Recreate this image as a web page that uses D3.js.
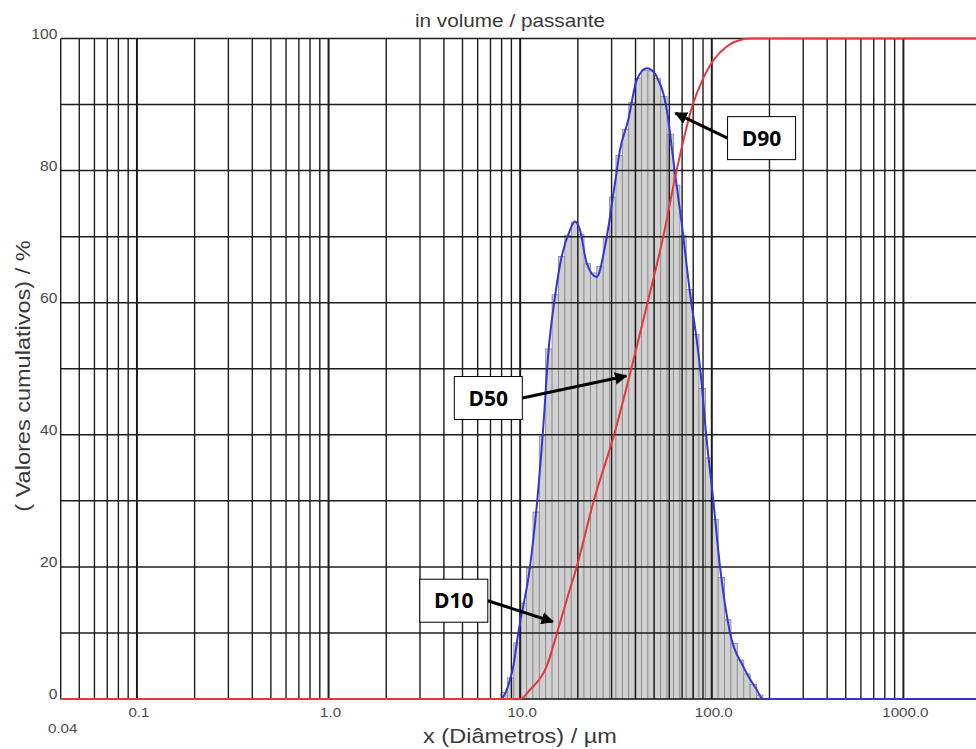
<!DOCTYPE html>
<html>
<head>
<meta charset="utf-8">
<script src="https://cdn.jsdelivr.net/npm/d3@7"></script>
<style>
  html, body { margin: 0; padding: 0; background: #fff; }
  svg { display: block; }
</style>
</head>
<body>
<svg id="chart" width="976" height="749"></svg>
<script>
// Particle size distribution: histogram classes, density curve and cumulative curve.

// Histogram classes: lower edges in µm (log-spaced) and class heights (%)
const binEdges = [7.943, 8.577, 9.261, 10.0, 10.80, 11.66, 12.59, 13.59, 14.68, 15.85,
  17.11, 18.48, 19.95, 21.54, 23.26, 25.12, 27.12, 29.29, 31.62, 34.15,
  36.87, 39.81, 42.99, 46.42, 50.12, 54.12, 58.43, 63.10, 68.13, 73.56,
  79.43, 85.77, 92.61, 100.0, 108.0, 116.6, 125.9, 135.9, 146.8, 158.5,
  171.1, 184.8];
const binHeights = [1.0, 3.2, 8.5, 14.5, 19.8, 28.3, 39.8, 53.0, 61.2, 67.0,
  70.2, 72.2, 70.3, 65.9, 64.5, 65.5, 69.8, 76.0, 82.3, 86.2,
  90.3, 94.0, 95.2, 95.1, 93.9, 91.2, 85.5, 77.8, 70.2, 62.0,
  55.2, 47.0, 36.5, 27.2, 18.4, 12.0, 8.4, 5.9, 3.8, 2.2, 0.6];

// Density curve (blue): diameter in µm, value in %
const densityD = [0.04, 7.85, 8.85, 9.20, 9.78, 9.98, 11.25, 12.19, 13.20, 14.02,
  15.19, 16.47, 18.20, 19.32, 20.52, 22.24, 25.08, 27.71, 31.25, 33.18,
  36.66, 40.56, 45.74, 50.52, 52.56, 55.82, 59.29, 61.76, 64.26, 69.63,
  76.94, 83.40, 86.77, 94.07, 101.8, 110.4, 124.5, 146.0, 171.5, 185.0, 2500];
const densityV = [0, 0, 2.9, 4.9, 10.0, 11.5, 20.0, 29.1, 41.2, 52.3,
  60.9, 67.0, 71.0, 72.3, 71.0, 66.0, 63.9, 68.5, 78.1, 83.1,
  87.7, 93.7, 95.5, 94.7, 93.7, 91.7, 87.7, 83.6, 79.6, 72.1,
  61.5, 54.4, 50.3, 39.2, 30.1, 20.0, 10.0, 4.9, 1.4, 0, 0];

// Cumulative passing curve (red)
const cumD = [0.04, 10.0, 11.25, 13.73, 15.57, 17.49, 19.72, 24.2, 30.9, 38.0,
  46.2, 55.8, 65.5, 79.6, 90.3, 101.9, 119.7, 146, 158, 2500];
const cumV = [0, 0, 1.4, 4.9, 10.0, 15.0, 20.0, 30.0, 40.0, 50.0,
  60.0, 70.0, 80.0, 90.0, 94.0, 96.7, 98.8, 99.9, 100, 100];

// Axis ticks
const gridX = [0.04, 0.05, 0.06, 0.07, 0.08, 0.09,
  0.1, 0.2, 0.3, 0.4, 0.5, 0.6, 0.7, 0.8, 0.9,
  1, 2, 3, 4, 5, 6, 7, 8, 9,
  10, 20, 30, 40, 50, 60, 70, 80, 90,
  100, 200, 300, 400, 500, 600, 700, 800, 900, 1000];
const decadeX = [0.1, 1, 10, 100, 1000];
const xTickValues = [0.1, 1, 10, 100, 1000];
const xTickLabels = ["0.1", "1.0", "10.0", "100.0", "1000.0"];
const gridY = [0, 10, 20, 30, 40, 50, 60, 70, 80, 90, 100];
const yTickValues = [0, 20, 40, 60, 80, 100];

// Characteristic diameters marked on the chart
const markLabels = ["D10", "D50", "D90"];
const markD = [14.8, 35.8, 64.7];
const markV = [11.7, 48.9, 88.7];

const W = 976, H = 749;
const svg = d3.select("#chart");

const x = d3.scaleLog().domain([0.04, 1000]).range([60.7, 903.4]);
const y = d3.scaleLinear().domain([0, 100]).range([699, 38.5]);
const plotRight = W;

const axisFont = "'Liberation Sans', Arial, sans-serif";
// the axis lettering is set slightly wide
const widen = 1.12;
function stretch(sel) {
  sel.each(function () {
    const len = this.getComputedTextLength();
    d3.select(this).attr("textLength", len * widen).attr("lengthAdjust", "spacingAndGlyphs");
  });
}

// Histogram bars
svg.append("g")
  .selectAll("rect")
  .data(binHeights)
  .join("rect")
  .attr("x", (d, i) => x(binEdges[i]))
  .attr("width", (d, i) => x(binEdges[i + 1]) - x(binEdges[i]))
  .attr("y", d => y(d))
  .attr("height", d => y(0) - y(d))
  .attr("fill", "#d0d0d0")
  .attr("stroke", "#8c8c8c")
  .attr("stroke-width", 0.9);

// Grid
const grid = svg.append("g").attr("stroke", "#1c1c1c");
grid.selectAll("line.h")
  .data(gridY)
  .join("line")
  .attr("class", "h")
  .attr("x1", x(0.04)).attr("x2", plotRight)
  .attr("y1", d => y(d)).attr("y2", d => y(d))
  .attr("stroke-width", 1.5);
grid.selectAll("line.v")
  .data(gridX)
  .join("line")
  .attr("class", "v")
  .attr("x1", d => x(d)).attr("x2", d => x(d))
  .attr("y1", y(0)).attr("y2", y(100))
  .attr("stroke-width", d => decadeX.includes(d) ? 2 : 1.4);

// Density curve
const curveLine = d3.line()
  .x(d => x(d[0]))
  .y(d => y(d[1]))
  .curve(d3.curveMonotoneX);
svg.append("path")
  .datum(densityD.map((d, i) => [d, densityV[i]]))
  .attr("d", curveLine)
  .attr("fill", "none")
  .attr("stroke", "#3434d8")
  .attr("stroke-width", 2);

// Cumulative curve
svg.append("path")
  .datum(cumD.map((d, i) => [d, cumV[i]]))
  .attr("d", curveLine)
  .attr("fill", "none")
  .attr("stroke", "#e8363c")
  .attr("stroke-width", 2);

// Y tick labels
svg.append("g")
  .selectAll("text")
  .data(yTickValues)
  .join("text")
  .attr("x", 57.5)
  .attr("y", d => y(d))
  .attr("text-anchor", "end")
  .attr("font-family", axisFont)
  .attr("font-size", 14)
  .attr("fill", "#4a4a4a")
  .text(d => d)
  .call(stretch);

// X tick labels
svg.append("g")
  .selectAll("text")
  .data(xTickValues)
  .join("text")
  .attr("x", d => x(d) + 2)
  .attr("y", 717)
  .attr("text-anchor", "middle")
  .attr("font-family", axisFont)
  .attr("font-size", 13.5)
  .attr("fill", "#4a4a4a")
  .text((d, i) => xTickLabels[i])
  .call(stretch);
svg.append("text")
  .attr("x", x(0.04) + 2)
  .attr("y", 733)
  .attr("text-anchor", "middle")
  .attr("font-family", axisFont)
  .attr("font-size", 13.5)
  .attr("fill", "#4a4a4a")
  .text("0.04")
  .call(stretch);

// Titles
svg.append("text")
  .attr("x", 510).attr("y", 26.5)
  .attr("text-anchor", "middle")
  .attr("font-family", axisFont)
  .attr("font-size", 18.5)
  .attr("fill", "#3a3a3a")
  .text("in volume / passante")
  .call(stretch);
svg.append("text")
  .attr("x", 520).attr("y", 743)
  .attr("text-anchor", "middle")
  .attr("font-family", axisFont)
  .attr("font-size", 21)
  .attr("fill", "#3a3a3a")
  .text("x (Diâmetros) / µm")
  .call(stretch);
svg.append("text")
  .attr("transform", "translate(30,376) rotate(-90)")
  .attr("text-anchor", "middle")
  .attr("font-family", axisFont)
  .attr("font-size", 21)
  .attr("fill", "#3a3a3a")
  .text("( Valores cumulativos) / %")
  .call(stretch);

// Annotations: label boxes with arrows to the characteristic diameters
const defs = svg.append("defs");
defs.append("marker")
  .attr("id", "arrow")
  .attr("viewBox", "0 0 10 10")
  .attr("refX", 9).attr("refY", 5)
  .attr("markerWidth", 4.2).attr("markerHeight", 4.2)
  .attr("markerUnits", "strokeWidth")
  .attr("orient", "auto")
  .append("path")
  .attr("d", "M0,0 L10,5 L0,10 Z")
  .attr("fill", "#000");

// box placement relative to the arrow tip: [dx of box centre, dy of box centre, side the arrow leaves from]
const boxOffsets = [[-99, -21, "right"], [-138, 22, "right"], [86, 25, "left"]];
const boxW = 68, boxH = 43;

markLabels.forEach((lab, i) => {
  const tx = x(markD[i]), ty = y(markV[i]);
  const cx = tx + boxOffsets[i][0], cy = ty + boxOffsets[i][1];
  const sx = boxOffsets[i][2] === "right" ? cx + boxW / 2 : cx - boxW / 2;
  svg.append("line")
    .attr("x1", sx).attr("y1", cy)
    .attr("x2", tx).attr("y2", ty)
    .attr("stroke", "#000")
    .attr("stroke-width", 3)
    .attr("marker-end", "url(#arrow)");
  svg.append("rect")
    .attr("x", cx - boxW / 2).attr("y", cy - boxH / 2)
    .attr("width", boxW).attr("height", boxH)
    .attr("fill", "#fff")
    .attr("stroke", "#000")
    .attr("stroke-width", 1);
  svg.append("text")
    .attr("x", cx).attr("y", cy + 7.5)
    .attr("text-anchor", "middle")
    .attr("font-family", "'Open Sans', 'DejaVu Sans', sans-serif")
    .attr("font-weight", "bold")
    .attr("font-size", 21)
    .attr("fill", "#000")
    .text(lab);
});
</script>
</body>
</html>
